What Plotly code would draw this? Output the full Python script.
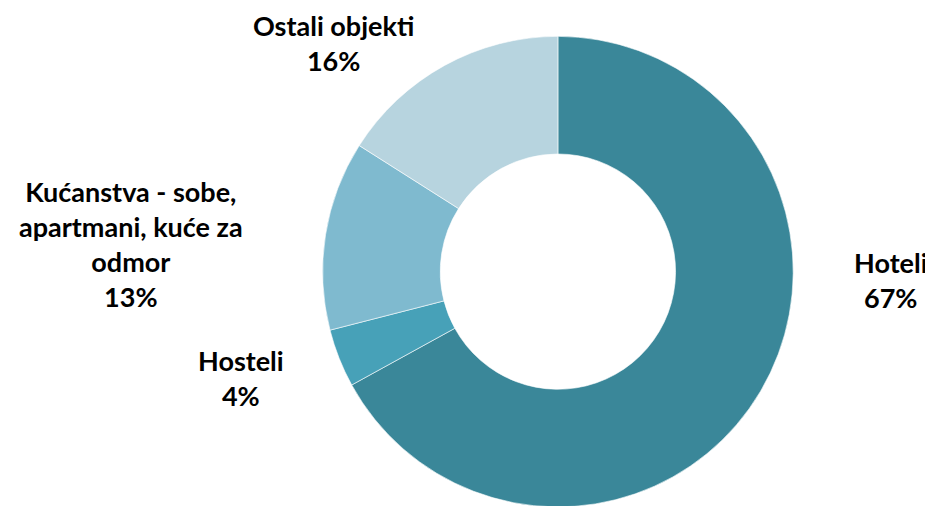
import plotly.graph_objects as go

# Data
labels = ["Hoteli", "Hosteli", "Kućanstva - sobe,<br>apartmani, kuće za<br>odmor", "Ostali objekti"]
values = [67, 4, 13, 16]
colors = ["#3A8799", "#47A1B8", "#7FBACF", "#B7D4DF"]

# label positions (paper coords) for each slice
label_pos = [(0.9464, 0.4628), (0.2494, 0.2688), (0.1314, 0.5338), (0.3484, 1.0)]
label_anchor = ["middle", "middle", "middle", "top"]

fig = go.Figure()

fig.add_trace(
    go.Pie(
        labels=labels,
        values=values,
        hole=0.5,
        sort=False,
        direction="clockwise",
        rotation=0,
        marker=dict(colors=colors, line=dict(color="white", width=0.6)),
        textinfo="none",
        hoverinfo="label+percent",
        domain=dict(x=[0.3364, 0.8424], y=[0.014, 0.944]),
        showlegend=False,
    )
)

total = sum(values)
for lab, val, (px, py), ya in zip(labels, values, label_pos, label_anchor):
    fig.add_annotation(
        x=px, y=py, xref="paper", yref="paper",
        text=f"<b>{lab}<br>{round(val / total * 100)}%</b>",
        showarrow=False,
        align="center",
        xanchor="center", yanchor=ya,
        borderpad=0,
        font=dict(family="Lato, Carlito, sans-serif", size=27, color="#000000"),
    )

fig.update_layout(
    width=933,
    height=506,
    margin=dict(l=0, r=0, t=0, b=0),
    paper_bgcolor="white",
    plot_bgcolor="white",
)

fig.write_html("out.html")
